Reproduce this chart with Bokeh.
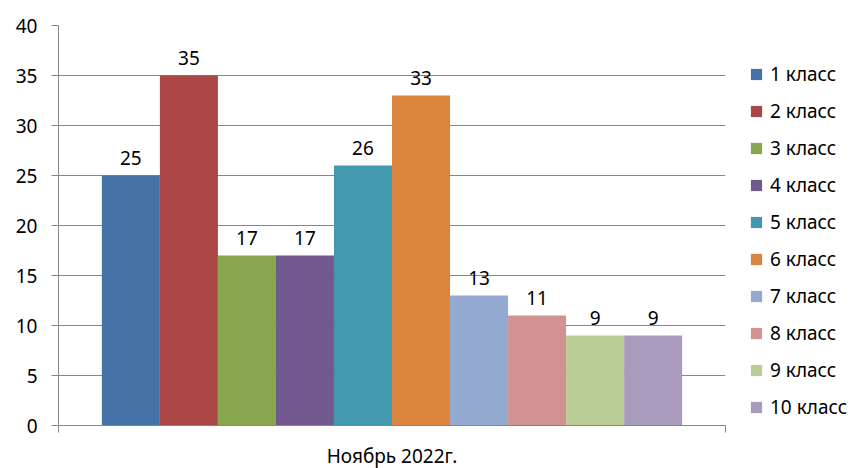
from bokeh.plotting import figure
from bokeh.models import ColumnDataSource, Range1d, FixedTicker, Legend, LegendItem
from bokeh.embed import file_html
from bokeh.resources import INLINE
from bokeh.core.properties import value

categories = ["1 класс", "2 класс", "3 класс", "4 класс", "5 класс",
              "6 класс", "7 класс", "8 класс", "9 класс", "10 класс"]
counts = [25, 35, 17, 17, 26, 33, 13, 11, 9, 9]
colors = ["#4572A7", "#AA4643", "#89A54E", "#71588F", "#4198AF",
          "#DB843D", "#93A9CF", "#D19392", "#B9CD96", "#A99BBD"]
period = "Ноябрь 2022г."
y_ticks = [0, 5, 10, 15, 20, 25, 30, 35, 40]

FONT = "Noto Sans"
FS = "19px"
GRAY = "#868686"
n = len(categories)
bar_w = 0.087  # fraction of the single category slot
xs = [0.5 + (i - (n - 1) / 2) * bar_w for i in range(n)]

p = figure(frame_width=667, frame_height=400, output_backend="svg", toolbar_location=None,
           x_range=Range1d(0, 1), y_range=Range1d(0, 40),
           min_border_left=58, min_border_top=25, min_border_right=131, min_border_bottom=43)
p.outline_line_color = None
p.background_fill_color = "white"

items = []
for i in range(n):
    src = ColumnDataSource(dict(x=[xs[i]], top=[counts[i]], lab=[str(counts[i])]))
    r = p.vbar(x="x", top="top", width=bar_w, bottom=0, source=src,
               fill_color=colors[i], line_color=None)
    p.text(x="x", y="top", text="lab", source=src, text_align="center",
           text_baseline="bottom", y_offset=-11, text_font=value(FONT),
           text_font_size=FS, text_color="#000000")
    items.append(LegendItem(label=categories[i], renderers=[r]))

# axes
p.yaxis.ticker = FixedTicker(ticks=y_ticks)
p.yaxis.axis_line_color = GRAY
p.yaxis.major_tick_line_color = GRAY
p.yaxis.major_tick_out = 7
p.yaxis.major_tick_in = 0
p.yaxis.minor_tick_line_color = None
p.yaxis.major_label_standoff = 14
p.yaxis.major_label_text_font = FONT
p.yaxis.major_label_text_font_size = FS
p.yaxis.major_label_text_color = "#000000"

p.xaxis.ticker = FixedTicker(ticks=[0, 1])
p.xaxis.major_label_overrides = {0: "", 1: ""}
p.xaxis.major_label_text_font_size = "0px"
p.xaxis.major_label_standoff = 0
p.xaxis.axis_line_color = GRAY
p.xaxis.major_tick_line_color = GRAY
p.xaxis.major_tick_out = 7
p.xaxis.major_tick_in = 0
p.xaxis.minor_tick_line_color = None
p.xaxis.axis_label = period
p.xaxis.axis_label_standoff = 10
p.xaxis.axis_label_text_font = FONT
p.xaxis.axis_label_text_font_size = FS
p.xaxis.axis_label_text_font_style = "normal"
p.xaxis.axis_label_text_color = "#000000"

p.xgrid.grid_line_color = None
p.ygrid.ticker = FixedTicker(ticks=y_ticks)
p.ygrid.grid_line_color = GRAY
p.ygrid.grid_line_width = 1

legend = Legend(items=items, location=(24, 5), orientation="vertical",
                padding=0, margin=0, spacing=11, glyph_width=14, glyph_height=14,
                label_standoff=7, label_text_font=FONT, label_text_font_size=FS,
                label_height=20, label_text_color="#000000",
                border_line_color=None, background_fill_alpha=0)
p.add_layout(legend, "right")

open("out.html", "w").write(file_html(p, INLINE))
